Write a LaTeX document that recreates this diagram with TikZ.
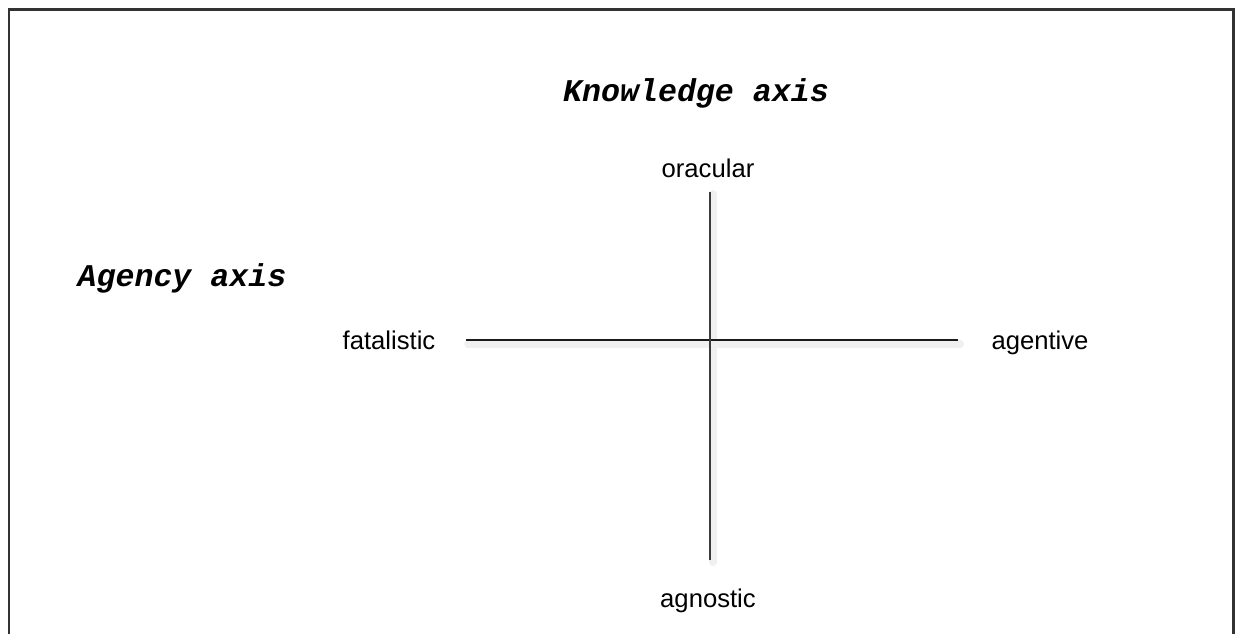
\documentclass[tikz,border=0pt]{standalone}
\usepackage{fontspec}
\setmainfont{Liberation Sans}
\newfontfamily\axisfont{Liberation Mono}
\usepackage{tikz}
\usetikzlibrary{positioning}
\definecolor{kframe}{HTML}{333333}
\definecolor{kline}{HTML}{1A1A1A}

\tikzset{
  poletext/.style={font=\fontsize{14.6}{17}\selectfont, anchor=base, inner sep=0pt},
  axistitle/.style={font=\axisfont\bfseries\itshape\fontsize{18}{21}\selectfont, anchor=base, inner sep=0pt},
  axisline/.style={draw=kline, line width=1.4pt},
  axisshadow/.style={draw=black!6, line width=4.5pt, line cap=round}
}

\begin{document}
\begin{tikzpicture}[x=0.02cm, y=-0.02cm]
  \useasboundingbox (0,0) rectangle (1235,634);

  %% Outer frame (bottom edge runs off the page)
  \begin{scope}
    \clip (0,0) rectangle (1235,634);
    \draw[kframe, line width=1.7pt] (9,10) rectangle (1233,660);
  \end{scope}

  %% Axis titles
  \node[axistitle] (knowtitle) at (696,102) {Knowledge axis};
  \node[axistitle] (agencytitle) at (182,287) {Agency axis};

  %% Pole labels
  \node[poletext] (oracular) at (708,178) {oracular};
  \node[poletext] (agnostic) at (708,608) {agnostic};
  \node[poletext] (fatalistic) at (389,350) {fatalistic};
  \node[poletext] (agentive) at (1040,350) {agentive};

  %% Line ends
  \coordinate (westend) at (466,340);
  \coordinate (eastend) at (958,340);
  \coordinate (northend) at (710,192);
  \coordinate (southend) at (710,560);

  %% Soft shadows, then the axes
  \draw[axisshadow] ([shift={(2,4)}]westend) -- ([shift={(2,4)}]eastend);
  \draw[axisshadow] ([shift={(3,2)}]northend) -- ([shift={(3,2)}]southend);
  \draw[axisline] (westend) -- (eastend);
  \draw[axisline, draw=kline!85, line width=1.1pt] (northend) -- (southend);

\end{tikzpicture}
\end{document}
